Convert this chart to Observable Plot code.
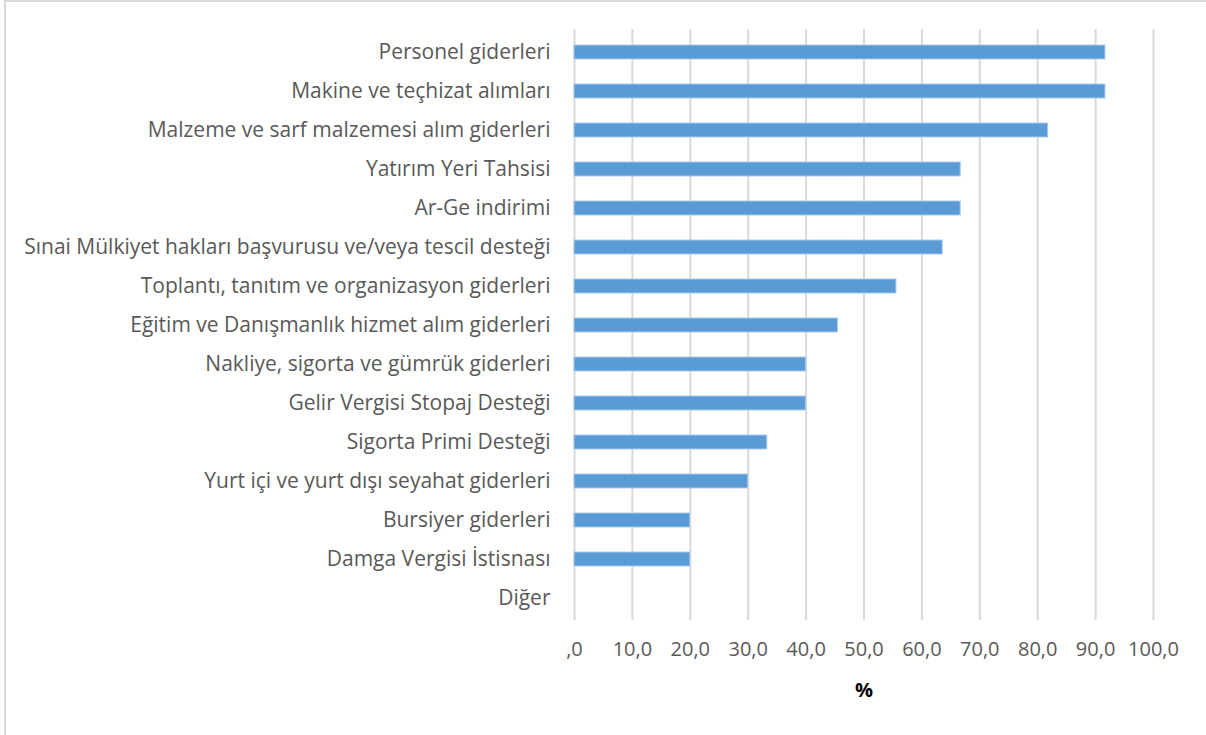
<!DOCTYPE html>
<html>
<head>
<meta charset="utf-8">
<script src="https://cdn.jsdelivr.net/npm/d3@7"></script>
<script src="https://cdn.jsdelivr.net/npm/@observablehq/plot@0.6"></script>
<style>
  html, body { margin: 0; padding: 0; background: #fff; }
  #wrap { position: relative; width: 1206px; height: 735px; overflow: hidden; }
  #border { position: absolute; left: 4px; top: 0; width: 1300px; height: 800px; border-left: 2px solid #d9d9d9; border-top: 2px solid #d9d9d9; box-sizing: border-box; }
  #chart { position: absolute; left: 0; top: 0; }
</style>
</head>
<body>
<div id="wrap"><div id="border"></div><div id="chart"></div></div>
<script>
const categories = [
  "Personel giderleri",
  "Makine ve teçhizat alımları",
  "Malzeme ve sarf malzemesi alım giderleri",
  "Yatırım Yeri Tahsisi",
  "Ar-Ge indirimi",
  "Sınai Mülkiyet hakları başvurusu ve/veya tescil desteği",
  "Toplantı, tanıtım ve organizasyon giderleri",
  "Eğitim ve Danışmanlık hizmet alım giderleri",
  "Nakliye, sigorta ve gümrük giderleri",
  "Gelir Vergisi Stopaj Desteği",
  "Sigorta Primi Desteği",
  "Yurt içi ve yurt dışı seyahat giderleri",
  "Bursiyer giderleri",
  "Damga Vergisi İstisnası",
  "Diğer"
];
const values = [91.7, 91.7, 81.8, 66.7, 66.7, 63.6, 55.6, 45.5, 40.0, 40.0, 33.3, 30.0, 20.0, 20.0, 0];
const xTicks = [0, 10, 20, 30, 40, 50, 60, 70, 80, 90, 100];
const axisTitle = "%";

const data = categories.map((c, i) => ({label: c, value: values[i]}));
const fmt = d => d === 0 ? ",0" : d.toFixed(1).replace(".", ",");

const chart = Plot.plot({
  width: 1206,
  height: 735,
  marginLeft: 574,
  marginRight: 53,
  marginTop: 29,
  marginBottom: 115,
  style: {fontFamily: "'Open Sans', Lato, sans-serif", background: "transparent"},
  x: {domain: [0, 100], ticks: xTicks},
  y: {domain: categories, paddingInner: 0.645, paddingOuter: 0.3225},
  marks: [
    Plot.gridX(xTicks, {stroke: "#d9d9d9", strokeOpacity: 1, strokeWidth: 2}),
    Plot.barX(data, {x: "value", y: "label", fill: "#5b9bd5", stroke: "#a9c9ea", strokeWidth: 1}),
    Plot.axisX({ticks: xTicks, tickFormat: fmt, tickSize: 0, tickPadding: 21, fontSize: 20, fill: "#595959", label: null}),
    Plot.axisY({tickSize: 0, tickPadding: 24, fontSize: 21, fill: "#595959", label: null}),
    Plot.text([axisTitle], {text: d => d, frameAnchor: "bottom", dy: 70, fontWeight: "bold", fontSize: 20, fill: "#000", lineAnchor: "middle"})
  ]
});
document.getElementById("chart").appendChild(chart);
</script>
</body>
</html>
